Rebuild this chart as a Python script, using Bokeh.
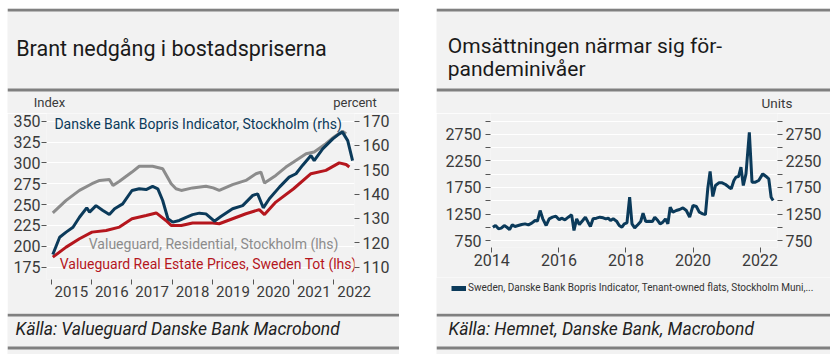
from bokeh.plotting import figure
from bokeh.models import (Range1d, LinearAxis, FixedTicker, Label, BoxAnnotation,
                          Legend, LegendItem, Spacer, CustomJSTickFormatter)
from bokeh.layouts import row, column
from bokeh.embed import file_html
from bokeh.resources import INLINE

# ---------------- data: left chart ----------------
bopris_t = [2015.04, 2015.21, 2015.37, 2015.54, 2015.70, 2015.88, 2015.95, 2016.11, 2016.28,
            2016.44, 2016.57, 2016.77, 2017.00, 2017.18, 2017.35, 2017.51, 2017.64, 2017.76,
            2017.89, 2018.01, 2018.17, 2018.34, 2018.50, 2018.67, 2018.83, 2019.04, 2019.20,
            2019.49, 2019.74, 2019.99, 2020.11, 2020.25, 2020.40, 2020.65, 2020.89, 2021.06,
            2021.22, 2021.43, 2021.51, 2021.72, 2021.97, 2022.13, 2022.21, 2022.34, 2022.46]
bopris_v = [115.2, 122.3, 124.4, 126.4, 130.5, 134.4, 132.6, 135.3, 133.3,
            131.6, 134.0, 136.0, 141.5, 142.2, 141.9, 143.2, 142.2, 137.4,
            129.9, 128.5, 129.2, 130.5, 131.6, 132.2, 131.9, 128.9, 130.8,
            134.0, 135.3, 139.5, 140.1, 134.4, 138.1, 142.9, 147.0, 148.4,
            151.8, 155.9, 153.8, 158.6, 162.7, 164.8, 165.5, 162.0, 153.8]

vg_sthlm_t = [2015.04, 2015.37, 2015.70, 2016.01, 2016.20, 2016.44, 2016.53, 2016.69, 2017.00,
              2017.18, 2017.51, 2017.76, 2017.97, 2018.09, 2018.22, 2018.50, 2018.83, 2019.01,
              2019.16, 2019.49, 2019.82, 2020.07, 2020.19, 2020.28, 2020.56, 2020.81, 2021.00,
              2021.31, 2021.51, 2021.80, 2022.00, 2022.21, 2022.30]
vg_sthlm_v = [240, 255, 267, 275, 279, 280, 273, 278, 289,
              296, 296, 293, 275, 269, 267, 270, 272, 270,
              267, 274, 279, 287, 289, 276, 285, 295, 301,
              311, 313, 323, 331, 338, 335]

vg_tot_t = [2015.04, 2015.37, 2015.70, 2016.01, 2016.36, 2016.69, 2017.00, 2017.35, 2017.60,
            2017.84, 2017.97, 2018.22, 2018.50, 2019.00, 2019.16, 2019.49, 2019.82, 2020.15,
            2020.28, 2020.56, 2021.00, 2021.43, 2021.80, 2022.13, 2022.30, 2022.38]
vg_tot_v = [187, 199, 209, 217, 219, 223, 233, 237, 240,
            231, 225, 225, 228, 228, 227, 233, 239, 244,
            238, 253, 269, 287, 291, 300, 298, 295]

left_ticks = [175, 200, 225, 250, 275, 300, 325, 350]
pct_ticks = [110, 120, 130, 140, 150, 160, 170]
year_ticks_left = [2015, 2016, 2017, 2018, 2019, 2020, 2021, 2022]

# ---------------- data: right chart ----------------
hemnet_t = [2014.03, 2014.11, 2014.20, 2014.28, 2014.37, 2014.45, 2014.53, 2014.61, 2014.69, 2014.79,
            2014.89, 2014.99, 2015.09, 2015.19, 2015.29, 2015.36, 2015.44, 2015.52, 2015.62, 2015.71,
            2015.81, 2015.91, 2016.01, 2016.08, 2016.18, 2016.28, 2016.38, 2016.45, 2016.53, 2016.61,
            2016.71, 2016.79, 2016.87, 2016.94, 2017.02, 2017.12, 2017.22, 2017.32, 2017.40, 2017.47,
            2017.54, 2017.62, 2017.72, 2017.80, 2017.88, 2017.95, 2018.03, 2018.11, 2018.18, 2018.26,
            2018.36, 2018.44, 2018.51, 2018.59, 2018.69, 2018.79, 2018.86, 2018.95, 2019.02, 2019.10,
            2019.18, 2019.25, 2019.32, 2019.40, 2019.50, 2019.60, 2019.70, 2019.80, 2019.90, 2020.00,
            2020.10, 2020.19, 2020.29, 2020.37, 2020.44, 2020.51, 2020.59, 2020.67, 2020.77, 2020.87,
            2020.97, 2021.07, 2021.14, 2021.22, 2021.28, 2021.36, 2021.43, 2021.50, 2021.58, 2021.68,
            2021.76, 2021.86, 2021.96, 2022.08, 2022.18, 2022.26, 2022.33, 2022.39]
hemnet_v = [1000, 1033, 970, 983, 1033, 1000, 957, 1045, 1014, 1033,
            1052, 1064, 1045, 1077, 1127, 1115, 1316, 1159, 1033, 1159,
            1190, 1209, 1140, 1171, 1140, 1190, 1234, 939, 1159, 1052,
            1127, 1190, 1096, 1014, 1159, 1171, 1190, 1178, 1159, 1171,
            1127, 1159, 1115, 1033, 1001, 1064, 1083, 1567, 1064, 989,
            1052, 1108, 1265, 1108, 1115, 1108, 1190, 1127, 1064, 1096,
            1159, 1064, 1379, 1284, 1316, 1335, 1366, 1316, 1190, 1410,
            1391, 1284, 1253, 1240, 1725, 2052, 1580, 1788, 1838, 1838,
            1807, 1756, 1725, 1882, 1945, 1958, 2134, 1788, 2008, 2790,
            1851, 1851, 1882, 2008, 1958, 1913, 1567, 1505]

right_ticks = [750, 1000, 1250, 1500, 1750, 2000, 2250, 2500, 2750, 3000]
year_ticks_right = [2014, 2016, 2018, 2020, 2022]
hemnet_label = "Sweden, Danske Bank Bopris Indicator, Tenant-owned flats, Stockholm Muni,..."

# ---------------- style ----------------
BG = "#f2f2f2"
RULE = "#808080"
BLUE = "#0b3a5a"
GRAY = "#8c8c8c"
RED = "#b5161d"
TXT = "#3a3a3a"
FONT = "Roboto"

LW, RW, GAP = 392, 394, 37
TH, CH, SH = 105, 200, 41
CH2, LGH = 164, 36


def band(width, height):
    p = figure(width=width, height=height, x_range=Range1d(0, width), y_range=Range1d(0, height),
               x_axis_type=None, y_axis_type=None, toolbar_location=None, output_backend="svg",
               min_border=0, background_fill_color=BG, border_fill_color=BG,
               outline_line_color=None, frame_align=False)
    return p


def rule(p, bottom, top):
    p.add_layout(BoxAnnotation(bottom=bottom, top=top, fill_color=RULE, fill_alpha=1,
                               line_color=None))


def text(p, x, y, s, size, color=TXT, align="left", baseline="alphabetic", style="normal",
         y_range_name="default"):
    p.add_layout(Label(x=x, y=y, text=s, text_font=FONT, text_font_size=size, text_color=color,
                       text_align=align, text_baseline=baseline, text_font_style=style,
                       y_range_name=y_range_name))


def style_axis(ax, size="16px", standoff=3):
    ax.axis_line_color = None
    ax.major_tick_in = 0
    ax.major_tick_out = 5
    ax.major_tick_line_color = "#555555"
    ax.minor_tick_line_color = None
    ax.major_label_standoff = standoff
    ax.major_label_text_font = FONT
    ax.major_label_text_font_size = size
    ax.major_label_text_color = TXT


# ---------------- left panel ----------------
t1 = band(LW, TH)
rule(t1, TH - 3, TH)
rule(t1, 22, 25)
text(t1, 8.7, 65.3, "Brant nedgång i bostadspriserna", "21.5px", color="#1a1a1a")
text(t1, 42, 11, "Index", "13px", align="center", baseline="middle")
text(t1, 347.5, 11, "percent", "13px", align="center", baseline="middle")

c1 = figure(width=LW, height=CH, x_range=Range1d(2014.884, 2022.508),
            y_range=Range1d(160.2, 359.2), toolbar_location=None, output_backend="svg",
            min_border_left=39, min_border_right=45, min_border_top=0, min_border_bottom=34,
            background_fill_color=BG, border_fill_color=BG, outline_line_color=None,
            frame_align=False)
c1.extra_y_ranges = {"pct": Range1d(104.93, 173.15)}
c1.xgrid.visible = False
c1.ygrid.grid_line_color = "white"
c1.ygrid.grid_line_width = 1

c1.yaxis.ticker = FixedTicker(ticks=left_ticks)
style_axis(c1.yaxis[0], standoff=1)
rax1 = LinearAxis(y_range_name="pct", ticker=FixedTicker(ticks=pct_ticks))
style_axis(rax1)
c1.add_layout(rax1, "right")

xa1 = c1.xaxis[0]
style_axis(xa1, size="15px", standoff=1)
xa1.ticker = FixedTicker(ticks=[y + 0.5 for y in year_ticks_left], minor_ticks=year_ticks_left)
xa1.formatter = CustomJSTickFormatter(code="return Math.floor(tick).toString();")
xa1.major_tick_line_color = None
xa1.minor_tick_in = 0
xa1.minor_tick_out = 5
xa1.minor_tick_line_color = "#555555"

c1.line(vg_sthlm_t, vg_sthlm_v, line_color=GRAY, line_width=3)
c1.line(vg_tot_t, vg_tot_v, line_color=RED, line_width=3)
c1.line(bopris_t, bopris_v, line_color=BLUE, line_width=3, y_range_name="pct")

text(c1, 2015.08, 347.2, "Danske Bank Bopris Indicator, Stockholm (rhs)", "14px", color=BLUE,
     baseline="middle")
text(c1, 2015.93, 202.2, "Valueguard, Residential, Stockholm (lhs)", "14px", color=GRAY,
     baseline="middle")
text(c1, 2015.21, 178.2, "Valueguard Real Estate Prices, Sweden Tot (lhs)", "14px", color=RED,
     baseline="middle")

s1 = band(LW, SH)
rule(s1, SH - 3, SH)
rule(s1, 5, 8)
text(s1, 8, 26, "Källa: Valueguard Danske Bank Macrobond", "17.5px", color="#222222",
     baseline="middle", style="italic")

# ---------------- right panel ----------------
t2 = band(RW, TH)
rule(t2, TH - 3, TH)
rule(t2, 22, 25)
text(t2, 11.3, 67.3, "Omsättningen närmar sig för-", "21px", color="#1a1a1a")
text(t2, 11.3, 44.7, "pandeminivåer", "21px", color="#1a1a1a")
text(t2, 340.5, 11, "Units", "13.5px", align="center", baseline="middle")

c2 = figure(width=RW, height=CH2, x_range=Range1d(2013.96, 2022.52),
            y_range=Range1d(618, 3146), toolbar_location=None, output_backend="svg",
            min_border_left=54, min_border_right=53, min_border_top=0, min_border_bottom=30,
            background_fill_color=BG, border_fill_color=BG, outline_line_color=None,
            frame_align=False)
c2.extra_y_ranges = {"r": Range1d(618, 3146)}
c2.xgrid.visible = False
c2.ygrid.grid_line_color = "white"
c2.ygrid.grid_line_width = 1

yfmt = CustomJSTickFormatter(code="return ((tick - 750) % 500 == 0) ? tick.toString() : '';")
c2.yaxis.ticker = FixedTicker(ticks=right_ticks)
c2.yaxis.formatter = yfmt
style_axis(c2.yaxis[0], standoff=4)
rax2 = LinearAxis(y_range_name="r", ticker=FixedTicker(ticks=right_ticks), formatter=yfmt)
style_axis(rax2)
c2.add_layout(rax2, "right")

xa2 = c2.xaxis[0]
style_axis(xa2, standoff=1)
xa2.ticker = FixedTicker(ticks=year_ticks_right)

c2.line(hemnet_t, hemnet_v, line_color=BLUE, line_width=3)

# legend band under the right chart (series drawn outside this band's view, only its key shows)
lg2 = band(RW, LGH)
leg_r = lg2.line(hemnet_t, hemnet_v, line_color=BLUE, line_width=5)
legend = Legend(items=[LegendItem(label=hemnet_label, renderers=[leg_r])],
                location=(15, 20), orientation="horizontal", background_fill_alpha=0,
                border_line_color=None, label_text_font=FONT, label_text_font_size="10px",
                label_text_color="#333333", glyph_width=15, glyph_height=10, label_standoff=2,
                padding=0, margin=0, label_height=10)
lg2.add_layout(legend)

s2 = band(RW, SH)
rule(s2, SH - 3, SH)
rule(s2, 5, 8)
text(s2, 12, 26, "Källa: Hemnet, Danske Bank, Macrobond", "17.5px", color="#222222",
     baseline="middle", style="italic")

panels = row(column(t1, c1, s1), Spacer(width=GAP, height=TH + CH + SH),
             column(t2, c2, lg2, s2))
layout = column(Spacer(width=10, height=8), row(Spacer(width=7, height=10), panels))
open("out.html", "w").write(file_html(layout, INLINE))
